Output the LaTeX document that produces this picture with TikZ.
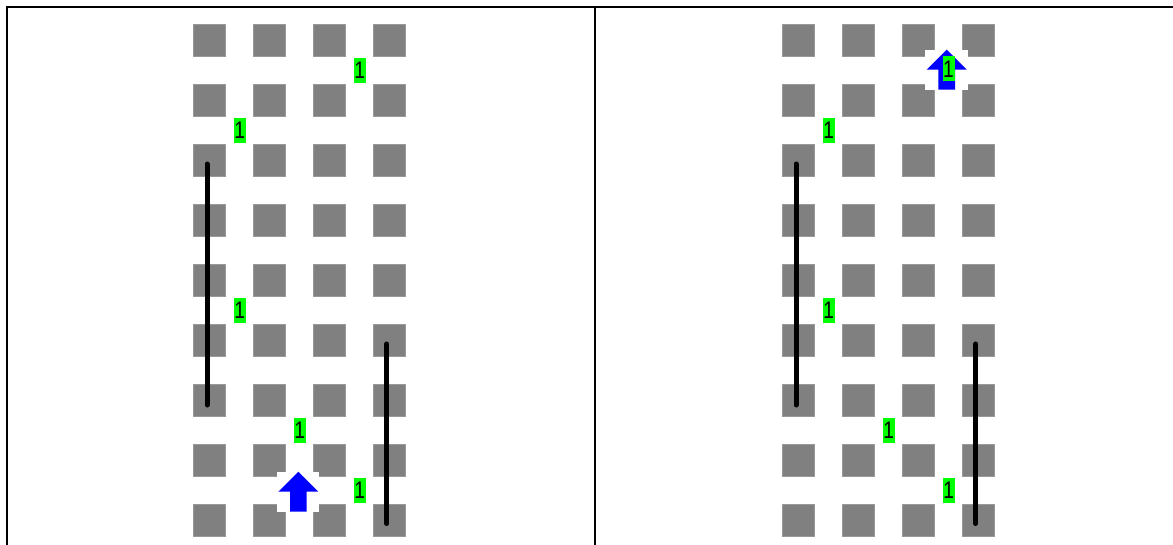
\documentclass[tikz,border=0pt]{standalone}
\usepackage{fontspec}
\setmainfont{Liberation Sans}
\definecolor{sqgray}{HTML}{808080}
\definecolor{lblgreen}{HTML}{00FF00}
\definecolor{arrblue}{HTML}{0000FF}
\tikzset{
  sq/.style={fill=sqgray, draw=sqgray!80!white, line width=0.6pt, minimum size=32pt, inner sep=0pt, outer sep=0pt},
  lbl/.style={fill=lblgreen, minimum width=12pt, minimum height=25pt, inner sep=0pt, outer sep=0pt, font=\fontsize{24}{24}\selectfont, text=black},
  wall/.style={line width=5pt, line cap=round, black},
  frame/.style={line width=2.4pt, black},
  uparrow/.pic={
    \fill[white] (-21.3,-20) rectangle (21,20);
    \fill[arrblue] (0,-20) -- (20,0) -- (8.3,0) -- (8.3,20) -- (-8.3,20) -- (-8.3,0) -- (-20,0) -- cycle;
  }
}
\newcommand{\one}{\scalebox{0.8}[1]{1}}
\begin{document}
\begin{tikzpicture}[x=1pt,y=-1pt]
\useasboundingbox (0,0) rectangle (1173,545);
% squares
\foreach \p/\dx in {L/0,R/589}{
  \foreach \i in {0,...,3}{
    \foreach \j in {0,...,8}{
      \node[sq] (\p-\i-\j) at (209.7+60*\i+\dx, 40+60*\j) {};
    }
  }
}
% walls
\coordinate (La) at (207,164); \coordinate (Lb) at (207,405);
\coordinate (Lc) at (386.7,344); \coordinate (Ld) at (386.7,523.5);
\coordinate (Ra) at (796,164); \coordinate (Rb) at (796,405);
\coordinate (Rc) at (975.7,344); \coordinate (Rd) at (975.7,523.5);
\draw[wall] (La) -- (Lb);
\draw[wall] (Lc) -- (Ld);
\draw[wall] (Ra) -- (Rb);
\draw[wall] (Rc) -- (Rd);
% frame
\coordinate (tl) at (6,7); \coordinate (tr) at (1173,7);
\coordinate (lt) at (7,6); \coordinate (lb) at (7,545);
\coordinate (mt) at (595,6); \coordinate (mb) at (595,545);
\draw[frame] (tl) -- (tr);
\draw[frame] (lt) -- (lb);
\draw[frame] (mt) -- (mb);
% left panel labels
\node[lbl] (l1) at (359.7,70.7) {\one};
\node[lbl] (l2) at (239.7,130.7) {\one};
\node[lbl] (l3) at (239.7,310.7) {\one};
\node[lbl] (l4) at (299.7,430.7) {\one};
\node[lbl] (l5) at (359.7,490.7) {\one};
% left arrow
\pic at (298.3,491.7) {uparrow};
% right panel
\pic at (946.7,69.7) {uparrow};
\node[lbl] (r1) at (948.5,69) {\one};
\node[lbl] (r2) at (828.7,130.7) {\one};
\node[lbl] (r3) at (828.7,310.7) {\one};
\node[lbl] (r4) at (888.7,430.7) {\one};
\node[lbl] (r5) at (948.7,490.7) {\one};
\end{tikzpicture}
\end{document}
